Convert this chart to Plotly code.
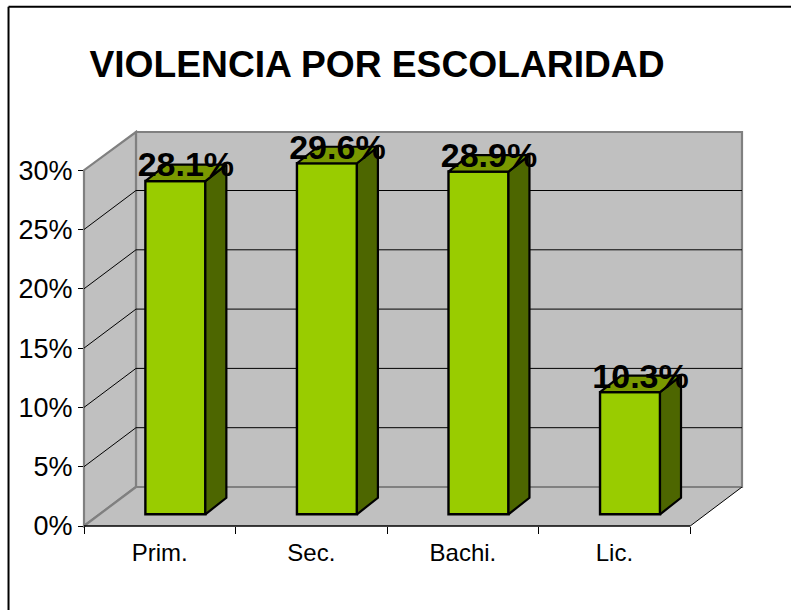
import plotly.graph_objects as go

categories = ["Prim.", "Sec.", "Bachi.", "Lic."]
values = [28.1, 29.6, 28.9, 10.3]
labels = ["28.1%", "29.6%", "28.9%", "10.3%"]
y_ticks = [0, 5, 10, 15, 20, 25, 30]
y_tick_labels = ["0%", "5%", "10%", "15%", "20%", "25%", "30%"]
title = "VIOLENCIA POR ESCOLARIDAD"

W, H = 791, 610
L, R, T, B = 83.5, 741.7, 131.7, 525.7
UX = 151.6
UY = 11.86
XMAX = (R - L) / UX
YMAX = (B - T) / UY
DEPTH_X = 52 / UX
DEPTH_Y = 39 / UY
BAR_W = 60 / UX
BAR_DX = 21 / UX
BAR_DY = 16.5 / UY
BAR_X0 = 15.6 / UX
BAR_Y0 = 11.7 / UY
LABEL_UP = 1.1

FONT = "Liberation Sans, Arial, sans-serif"
FRONT, SIDE, TOP = "#99cc00", "#4d6600", "#7a9900"
WALL, EDGE = "#c0c0c0", "#808080"


def px(x):
    return x / XMAX


def py(y):
    return y / YMAX


def poly(points, fill=None, line=None, width=0):
    path = "M " + " L ".join(f"{px(a)} {py(b)}" for a, b in points)
    if fill:
        path += " Z"
    return dict(type="path", path=path, xref="paper", yref="paper", layer="below",
                fillcolor=fill or "rgba(0,0,0,0)",
                line=dict(color=line or "rgba(0,0,0,0)", width=width))


N = len(categories)
shapes = [
    # walls and floor
    poly([(DEPTH_X, DEPTH_Y), (XMAX, DEPTH_Y), (XMAX, YMAX), (DEPTH_X, YMAX)], WALL, EDGE, 2.2),
    poly([(0, 0), (DEPTH_X, DEPTH_Y), (DEPTH_X, YMAX), (0, y_ticks[-1])], WALL, EDGE, 2.2),
    poly([(0, 0), (N, 0), (XMAX, DEPTH_Y), (DEPTH_X, DEPTH_Y)], WALL),
    poly([(0, 0), (DEPTH_X, DEPTH_Y)], None, EDGE, 2.2),
    poly([(DEPTH_X, DEPTH_Y), (XMAX, DEPTH_Y)], None, EDGE, 2.2),
    poly([(N, 0), (XMAX, DEPTH_Y)], None, "black", 1),
]
for t in y_ticks[1:-1]:
    shapes.append(poly([(0, t), (DEPTH_X, t + DEPTH_Y)], None, "black", 1))
    shapes.append(poly([(DEPTH_X, t + DEPTH_Y), (XMAX, t + DEPTH_Y)], None, "black", 1))
# outer frame: left and top edges only
shapes.append(dict(type="line", xref="paper", yref="paper", layer="above",
                   x0=(8 - L) / (R - L), x1=(8 - L) / (R - L),
                   y0=(B - 610) / (B - T), y1=(B - 6.5) / (B - T),
                   line=dict(color="black", width=2)))
shapes.append(dict(type="line", xref="paper", yref="paper", layer="above",
                   x0=(8 - L) / (R - L), x1=(791 - L) / (R - L),
                   y0=(B - 6.5) / (B - T), y1=(B - 6.5) / (B - T),
                   line=dict(color="black", width=2)))
shapes.append(dict(type="line", xref="paper", yref="paper", layer="above",
                   x0=0, x1=N / XMAX, y0=0, y1=0, line=dict(color="black", width=1.5)))

centers = [i + 0.5 for i in range(N)]
bar_x = [c + BAR_X0 for c in centers]

fig = go.Figure()
fig.add_trace(go.Bar(x=bar_x, y=values, base=BAR_Y0, width=BAR_W,
                     marker=dict(color=FRONT, line=dict(color="black", width=2.4)),
                     showlegend=False, hoverinfo="skip"))

for x, v in zip(bar_x, values):
    x0, x1 = x - BAR_W / 2, x + BAR_W / 2
    y0, y1 = BAR_Y0, BAR_Y0 + v
    fig.add_trace(go.Scatter(
        x=[x1, x1 + BAR_DX, x1 + BAR_DX, x1, x1], y=[y0, y0 + BAR_DY, y1 + BAR_DY, y1, y0],
        mode="lines", fill="toself", fillcolor=SIDE, line=dict(color="black", width=2.2),
        showlegend=False, hoverinfo="skip"))
    fig.add_trace(go.Scatter(
        x=[x0, x1, x1 + BAR_DX, x0 + BAR_DX, x0], y=[y1, y1, y1 + BAR_DY, y1 + BAR_DY, y1],
        mode="lines", fill="toself", fillcolor=TOP, line=dict(color="black", width=2.2),
        showlegend=False, hoverinfo="skip"))

fig.add_trace(go.Scatter(
    x=[x + BAR_DX / 2 for x in bar_x], y=[BAR_Y0 + v + LABEL_UP for v in values],
    mode="text", text=labels, textposition="middle center", cliponaxis=False,
    textfont=dict(family=FONT, size=34, color="black"), texttemplate="<b>%{text}</b>",
    showlegend=False, hoverinfo="skip"))

fig.update_layout(
    width=W, height=H,
    margin=dict(l=L, r=W - R, t=T, b=H - B, pad=0),
    paper_bgcolor="white", plot_bgcolor="rgba(0,0,0,0)",
    font=dict(family=FONT, color="black"),
    shapes=shapes,
    showlegend=False,
    title=dict(text=f"<b>{title}</b>", font=dict(family=FONT, size=37.2, color="black"),
               x=377 / W, xanchor="center", y=1 - 64 / H, yanchor="middle"),
    xaxis=dict(range=[0, XMAX], tickmode="array", tickvals=centers, ticktext=categories,
               ticks="", showgrid=False, zeroline=False, showline=False,
               tickfont=dict(family=FONT, size=24, color="black"), ticklabelstandoff=10,
               minor=dict(ticks="outside", ticklen=7, tickwidth=1, tickcolor="black",
                          tickmode="array", tickvals=list(range(N + 1)), showgrid=False)),
    yaxis=dict(range=[0, YMAX], tickmode="array", tickvals=y_ticks, ticktext=y_tick_labels,
               ticks="outside", ticklen=5, tickwidth=1, tickcolor="black",
               showgrid=False, zeroline=False, showline=False,
               tickfont=dict(family=FONT, size=27, color="black")),
)

fig.write_html("out.html", config={"displayModeBar": False},
               post_script="document.body.style.margin='0';")
